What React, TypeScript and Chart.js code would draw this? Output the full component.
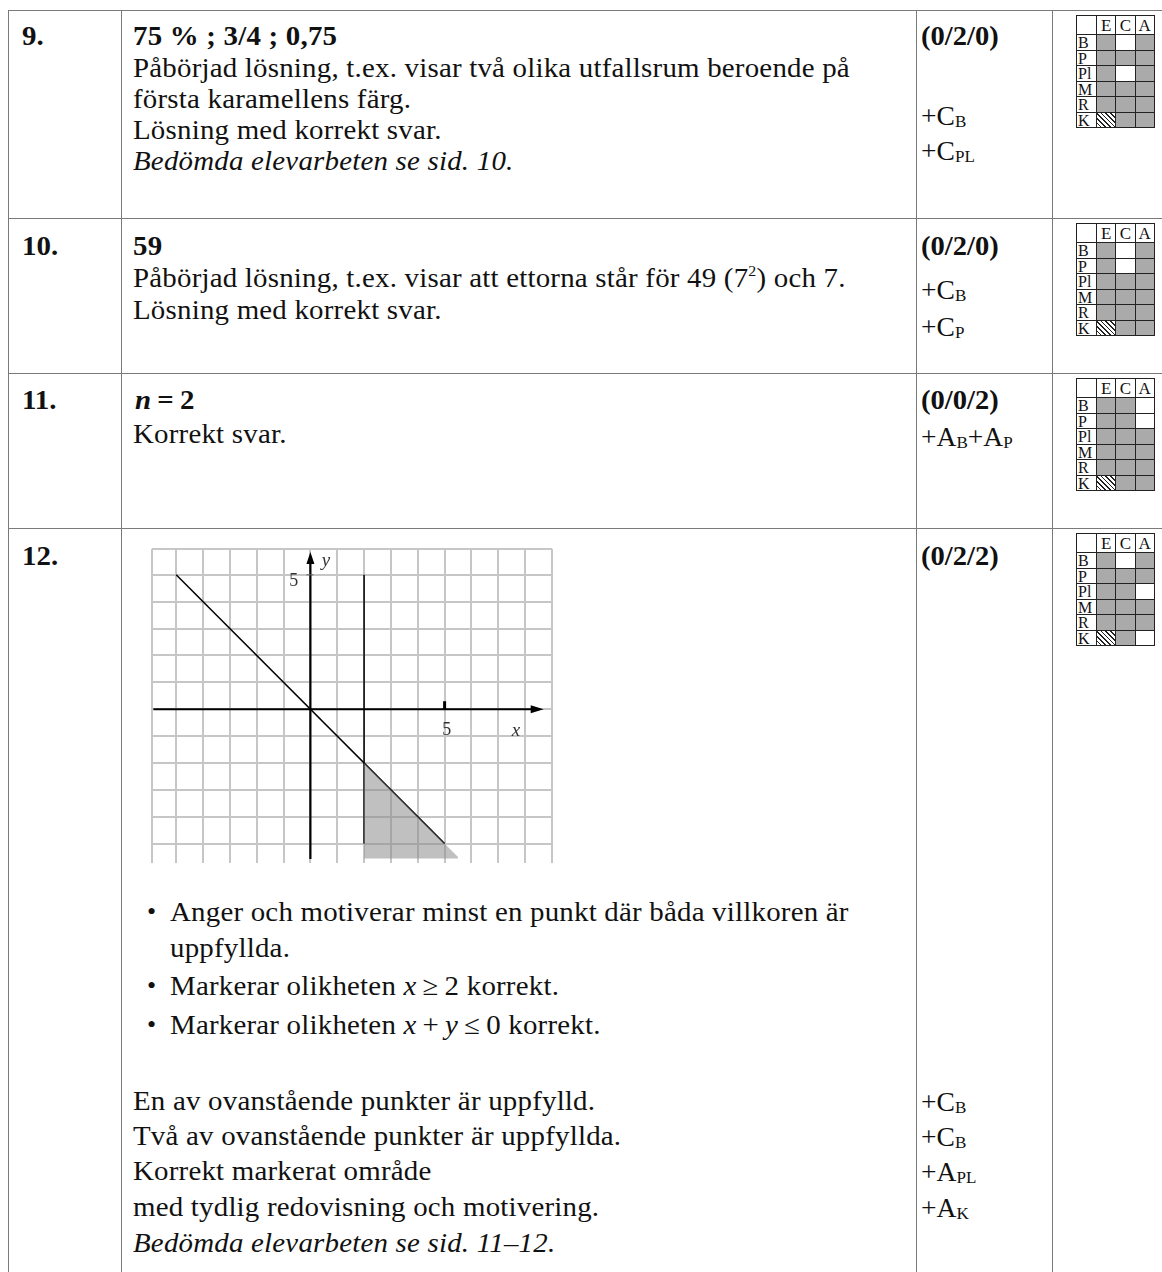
import React, { useEffect, useRef } from "react";
import { Chart, registerables } from "chart.js";

Chart.register(...registerables);

// ---------------- chart data ----------------
const xGridTicks = [-5.9, -5, -4, -3, -2, -1, 0, 1, 2, 3, 4, 5, 6, 7, 8, 9];
const yGridTicks = [-5, -4, -3, -2, -1, 0, 1, 2, 3, 4, 5, 5.96];
const xRange = [-5.9, 9];
const yRange = [-5.72, 5.96];
const boundaryX = [-5, 5]; // x + y = 0
const boundaryY = [5, -5];
const verticalX = [2, 2]; // x = 2
const verticalY = [5, -5];
const shadeX = [2, 5.5];
const shadeY = [-2, -5.5];
const shadeFloor = -5.55;
const xAxisX = [-5.85, 8.5];
const yAxisY = [-5.57, 5.6];
const xArrowTip = 8.69;
const yArrowTip = 5.85;
const axisNumberLabels = ["5", "5"];
const axisNameLabels = ["x", "y"];

// ---------------- grade matrices ----------------
const matrixRows = ["B", "P", "Pl", "M", "R", "K"];
const matrixCols = ["E", "C", "A"];
const matrix9 = ["gwg", "ggg", "gwg", "ggg", "ggg", "hgg"];
const matrix10 = ["gwg", "gwg", "ggg", "ggg", "ggg", "hgg"];
const matrix11 = ["ggw", "ggw", "ggg", "ggg", "ggg", "hgg"];
const matrix12 = ["gwg", "ggg", "ggw", "ggg", "ggg", "hgw"];

const FONT = '"Liberation Serif", "Times New Roman", serif';
const LINE = "#7a7a7a";

const decorPlugin = {
  id: "decor",
  afterDatasetsDraw(chart: any) {
    const { ctx } = chart;
    const sx = chart.scales.x;
    const sy = chart.scales.y;
    const px = (v: number) => sx.getPixelForValue(v);
    const py = (v: number) => sy.getPixelForValue(v);
    ctx.save();
    ctx.fillStyle = "#000";
    const xt = px(xArrowTip);
    const y0 = py(0);
    ctx.beginPath();
    ctx.moveTo(xt, y0);
    ctx.lineTo(xt - 13, y0 - 4);
    ctx.lineTo(xt - 13, y0 + 4);
    ctx.closePath();
    ctx.fill();
    const x0 = px(0);
    const yt = py(yArrowTip);
    ctx.beginPath();
    ctx.moveTo(x0, yt);
    ctx.lineTo(x0 - 4, yt + 12);
    ctx.lineTo(x0 + 4, yt + 12);
    ctx.closePath();
    ctx.fill();
    ctx.fillRect(px(5) - 1.5, y0 - 8, 3, 8);
    ctx.strokeStyle = "#666";
    ctx.lineWidth = 1;
    ctx.beginPath();
    ctx.moveTo(x0 - 4, py(5));
    ctx.lineTo(x0 + 3, py(5));
    ctx.stroke();
    ctx.fillStyle = "#333";
    ctx.textAlign = "center";
    ctx.textBaseline = "middle";
    ctx.font = '18px "Liberation Serif"';
    ctx.fillText(axisNumberLabels[0], px(5.08), py(-0.8));
    ctx.fillText(axisNumberLabels[1], px(-0.62), py(4.77));
    ctx.font = 'italic 19px "Liberation Serif"';
    ctx.fillText(axisNameLabels[0], px(7.66), py(-0.8));
    ctx.fillText(axisNameLabels[1], px(0.58), py(5.5));
    ctx.restore();
  },
};

function toPoints(xs: number[], ys: number[]) {
  return xs.map((x, i) => ({ x, y: ys[i] }));
}

function Graph() {
  const ref = useRef<HTMLCanvasElement | null>(null);
  useEffect(() => {
    if (!ref.current) return;
    const chart = new Chart(ref.current, {
      type: "scatter",
      data: {
        datasets: [
          {
            data: toPoints(shadeX, shadeY),
            showLine: true,
            borderWidth: 0,
            borderColor: "rgba(0,0,0,0)",
            pointRadius: 0,
            backgroundColor: "rgba(140,140,140,0.55)",
            fill: { value: shadeFloor },
          },
          {
            data: toPoints(xAxisX, [0, 0]),
            showLine: true,
            borderColor: "#000",
            borderWidth: 2.2,
            pointRadius: 0,
          },
          {
            data: toPoints([0, 0], yAxisY),
            showLine: true,
            borderColor: "#000",
            borderWidth: 2.2,
            pointRadius: 0,
          },
          {
            data: toPoints(boundaryX, boundaryY),
            showLine: true,
            borderColor: "#000",
            borderWidth: 1.5,
            pointRadius: 0,
          },
          {
            data: toPoints(verticalX, verticalY),
            showLine: true,
            borderColor: "#000",
            borderWidth: 1.5,
            pointRadius: 0,
          },
        ],
      },
      options: {
        animation: false,
        responsive: false,
        maintainAspectRatio: false,
        layout: { padding: { left: 20, right: 20, top: 14, bottom: 12 } },
        plugins: { legend: { display: false }, tooltip: { enabled: false } },
        scales: {
          x: {
            type: "linear",
            min: xRange[0],
            max: xRange[1],
            afterBuildTicks: (s: any) => {
              s.ticks = xGridTicks.map((v) => ({ value: v }));
            },
            ticks: { display: false },
            grid: { color: "#c6c6c6", lineWidth: 2, drawTicks: false },
            border: { display: false },
          },
          y: {
            type: "linear",
            min: yRange[0],
            max: yRange[1],
            afterBuildTicks: (s: any) => {
              s.ticks = yGridTicks.map((v) => ({ value: v }));
            },
            ticks: { display: false },
            grid: { color: "#c6c6c6", lineWidth: 2, drawTicks: false },
            border: { display: false },
          },
        },
      },
      plugins: [decorPlugin],
    } as any);
    return () => chart.destroy();
  }, []);
  return (
    <canvas
      ref={ref}
      width={440}
      height={340}
      style={{ position: "absolute", left: 132, top: 535, width: 440, height: 340 }}
    />
  );
}

function T(props: {
  x: number;
  y: number;
  children: React.ReactNode;
  bold?: boolean;
  italic?: boolean;
  size?: number;
  ls?: number;
  sx?: number;
}) {
  const size = props.size ?? 27;
  const lh = 32;
  const baseline = (lh - 1.107 * size) / 2 + 0.891 * size;
  const capCenter = baseline - 0.33 * size;
  return (
    <div
      style={{
        position: "absolute",
        left: props.x,
        top: props.y - capCenter,
        fontFamily: FONT,
        fontSize: size,
        lineHeight: `${lh}px`,
        letterSpacing: props.ls ?? 0.2,
        fontWeight: props.bold ? "bold" : "normal",
        fontStyle: props.italic ? "italic" : "normal",
        whiteSpace: "nowrap",
        color: "#111",
        transform: `scaleX(${props.sx ?? 1.07})`,
        transformOrigin: "0 50%",
      }}
    >
      {props.children}
    </div>
  );
}

function P(props: { x: number; y: number; children: React.ReactNode; bold?: boolean }) {
  return (
    <T x={props.x} y={props.y} bold={props.bold} size={props.bold ? 28 : 27} ls={0} sx={1.02}>
      {props.children}
    </T>
  );
}

function Sub({ children }: { children: React.ReactNode }) {
  return (
    <span style={{ fontSize: "0.62em", position: "relative", top: "0.14em" }}>{children}</span>
  );
}

function Matrix({ top, cells }: { top: number; cells: string[] }) {
  const left = 1076;
  const labelW = 20;
  const colW = 19.3;
  const headH = 19;
  const rowH = 15.5;
  const items: React.ReactNode[] = [];
  const cellStyle = (l: number, t: number, w: number, h: number, bg: string): React.CSSProperties => ({
    position: "absolute",
    left: l,
    top: t,
    width: w,
    height: h,
    boxSizing: "border-box",
    border: "1px solid #222",
    background: bg,
    fontFamily: FONT,
    fontSize: 17,
    lineHeight: `${h}px`,
    color: "#111",
    overflow: "hidden",
  });
  items.push(<div key="corner" style={cellStyle(left, top, labelW + 1, headH + 1, "#fff")} />);
  matrixCols.forEach((c, j) => {
    items.push(
      <div
        key={"h" + c}
        style={{ ...cellStyle(left + labelW + j * colW, top, colW + 1, headH + 1, "#fff"), textAlign: "center" }}
      >
        {c}
      </div>
    );
  });
  matrixRows.forEach((r, i) => {
    const t = top + headH + i * rowH;
    items.push(
      <div key={"r" + r} style={{ ...cellStyle(left, t, labelW + 1, rowH + 1, "#fff"), paddingLeft: 1, fontSize: 16 }}>
        {r}
      </div>
    );
    matrixCols.forEach((c, j) => {
      const k = cells[i][j];
      const bg =
        k === "g"
          ? "#aaaaaa"
          : k === "h"
          ? "repeating-linear-gradient(45deg, #fff 0px, #fff 2.2px, #222 2.2px, #222 3.3px)"
          : "#fff";
      items.push(
        <div key={r + c} style={cellStyle(left + labelW + j * colW, t, colW + 1, rowH + 1, bg)} />
      );
    });
  });
  return <>{items}</>;
}

function HLine({ y }: { y: number }) {
  return <div style={{ position: "absolute", left: 8, top: y, width: 1154, height: 1, background: LINE }} />;
}
function VLine({ x, y }: { x: number; y: number }) {
  return <div style={{ position: "absolute", left: x, top: y, width: 1, height: 1272 - y, background: LINE }} />;
}

export default function App() {
  useEffect(() => {
    document.body.style.margin = "0";
    document.body.style.overflow = "hidden";
  }, []);
  return (
    <div
      style={{
        position: "absolute",
        left: 0,
        top: 0,
        width: 1162,
        height: 1272,
        overflow: "hidden",
        background: "#fff",
      }}
    >
      <HLine y={10} />
      <HLine y={218} />
      <HLine y={373} />
      <HLine y={528} />
      <VLine x={8} y={10} />
      <VLine x={121} y={10} />
      <VLine x={916} y={10} />
      <VLine x={1052} y={10} />

      {/* Row 9 */}
      <T x={22} y={36} bold ls={0}>9.</T>
      <T x={133} y={36} bold>75 % ; 3/4 ; 0,75</T>
      <T x={133} y={68}>Påbörjad lösning, t.ex. visar två olika utfallsrum beroende på</T>
      <T x={133} y={99}>första karamellens färg.</T>
      <T x={133} y={130}>Lösning med korrekt svar.</T>
      <T x={133} y={161} italic>Bedömda elevarbeten se sid. 10.</T>
      <P x={921} y={36} bold>(0/2/0)</P>
      <P x={921} y={116}>+C<Sub>B</Sub></P>
      <P x={921} y={151}>+C<Sub>PL</Sub></P>
      <Matrix top={15} cells={matrix9} />

      {/* Row 10 */}
      <T x={22} y={246} bold ls={0}>10.</T>
      <T x={133} y={246} bold>59</T>
      <T x={133} y={278}>
        Påbörjad lösning, t.ex. visar att ettorna står för 49 (7
        <span style={{ fontSize: "0.55em", position: "relative", top: "-0.75em" }}>2</span>) och 7.
      </T>
      <T x={133} y={310}>Lösning med korrekt svar.</T>
      <P x={921} y={246} bold>(0/2/0)</P>
      <P x={921} y={290}>+C<Sub>B</Sub></P>
      <P x={921} y={327}>+C<Sub>P</Sub></P>
      <Matrix top={223} cells={matrix10} />

      {/* Row 11 */}
      <T x={22} y={400} bold ls={0}>11.</T>
      <T x={135} y={400} bold>
        <i>n</i>{"\u2009"}={"\u2009"}2
      </T>
      <T x={133} y={434}>Korrekt svar.</T>
      <P x={921} y={400} bold>(0/0/2)</P>
      <P x={921} y={437}>
        +A<Sub>B</Sub>+A<Sub>P</Sub>
      </P>
      <Matrix top={378} cells={matrix11} />

      {/* Row 12 */}
      <T x={22} y={556} bold ls={0}>12.</T>
      <P x={921} y={556} bold>(0/2/2)</P>
      <Matrix top={533} cells={matrix12} />
      <Graph />
      <T x={147} y={912} size={26} ls={0} sx={1}>•</T>
      <T x={170} y={912}>Anger och motiverar minst en punkt där båda villkoren är</T>
      <T x={170} y={948}>uppfyllda.</T>
      <T x={147} y={986} size={26} ls={0} sx={1}>•</T>
      <T x={170} y={986}>
        Markerar olikheten <i>x</i>{"\u2009"}≥{"\u2009"}2 korrekt.
      </T>
      <T x={147} y={1025} size={26} ls={0} sx={1}>•</T>
      <T x={170} y={1025}>
        Markerar olikheten <i>x</i>{"\u2009"}+{"\u2009"}<i>y</i>{"\u2009"}≤{"\u2009"}0 korrekt.
      </T>
      <T x={133} y={1101}>En av ovanstående punkter är uppfylld.</T>
      <T x={133} y={1136}>Två av ovanstående punkter är uppfyllda.</T>
      <T x={133} y={1171}>Korrekt markerat område</T>
      <T x={133} y={1207}>med tydlig redovisning och motivering.</T>
      <T x={133} y={1243} italic>Bedömda elevarbeten se sid. 11–12.</T>
      <P x={921} y={1102}>+C<Sub>B</Sub></P>
      <P x={921} y={1137}>+C<Sub>B</Sub></P>
      <P x={921} y={1172}>+A<Sub>PL</Sub></P>
      <P x={921} y={1208}>+A<Sub>K</Sub></P>
    </div>
  );
}
